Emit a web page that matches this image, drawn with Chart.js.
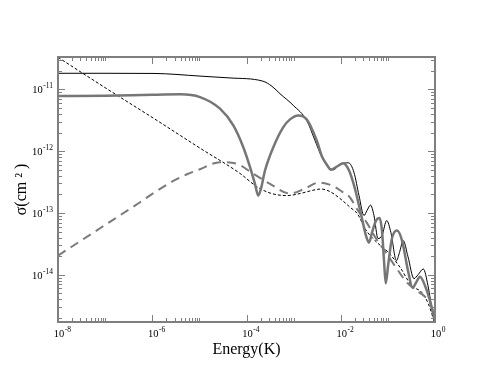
<!DOCTYPE html>
<html>
<head>
<meta charset="utf-8">
<script src="https://cdn.jsdelivr.net/npm/chart.js@4/dist/chart.umd.min.js"></script>
<style>
html, body { margin: 0; padding: 0; background: #fff; }
#wrap { width: 491px; height: 379px; }
</style>
</head>
<body>
<div id="wrap"><canvas id="chart-container"></canvas></div>
<script>
// thin black solid
const energyThin = [1e-8, 1.05e-7, 1.09e-6, 1.03e-5, 4.47e-5, 2.21e-4, 3.48e-4, 5.14e-4, 9.84e-4, 1.89e-3,
    2.84e-3, 4.0e-3, 5.36e-3, 6.95e-3, 9.64e-3, 1.45e-2, 1.91e-2, 2.44e-2, 3.11e-2, 3.60e-2,
    4.28e-2, 5.08e-2, 6.17e-2, 7.5e-2, 9.44e-2, 0.116, 0.152, 0.176, 0.212, 0.267,
    0.358, 0.436, 0.565, 0.71, 0.908, 1];
const sigmaThin = [1.82e-11, 1.82e-11, 1.81e-11, 1.64e-11, 1.53e-11, 1.36e-11, 1.12e-11, 8.51e-12, 5.51e-12, 3.15e-12,
    1.49e-12, 7.91e-13, 5.65e-13, 5.0e-13, 6.08e-13, 6.49e-13, 4.52e-13, 1.91e-13, 9.08e-14, 1.09e-13,
    1.34e-13, 9.08e-14, 3.85e-14, 4.31e-14, 7.53e-14, 4.81e-14, 1.69e-14, 2.28e-14, 3.57e-14, 1.96e-14,
    8.65e-15, 1.0e-14, 1.24e-14, 6.65e-15, 2.17e-15, 1.6e-15];

// thick grey solid
const energyThick = [1e-8, 1.05e-7, 1.05e-6, 3.88e-6, 1.03e-5, 2.74e-5, 5.25e-5, 8.55e-5, 1.19e-4, 1.51e-4,
    1.78e-4, 2.03e-4, 2.47e-4, 3.71e-4, 6.04e-4, 8.38e-4, 1.26e-3, 1.89e-3, 3.09e-3, 4.0e-3,
    5.04e-3, 6.21e-3, 8.32e-3, 1.13e-2, 1.5e-2, 2.0e-2, 2.78e-2, 3.43e-2, 3.98e-2, 4.6e-2,
    5.6e-2, 6.64e-2, 7.5e-2, 8.28e-2, 9.0e-2, 0.101, 0.122, 0.156, 0.2, 0.267,
    0.336, 0.395, 0.481, 0.614, 0.783, 1];
const sigmaThick = [7.8e-12, 7.9e-12, 8.2e-12, 8.3e-12, 7.5e-12, 4.87e-12, 2.61e-12, 1.16e-12, 5.51e-13, 2.96e-13,
    1.91e-13, 2.48e-13, 4.86e-13, 1.16e-12, 2.45e-12, 3.27e-12, 3.79e-12, 3.27e-12, 1.49e-12, 8.2e-13,
    6.08e-13, 5.0e-13, 5.65e-13, 6.39e-13, 4.86e-13, 2.48e-13, 8.51e-14, 4.31e-14, 3.31e-14, 4.81e-14,
    7.53e-14, 8.26e-14, 5.19e-14, 1.69e-14, 7.26e-15, 1.40e-14, 3.85e-14, 5.19e-14, 3.57e-14, 1.17e-14,
    6.18e-15, 7.44e-15, 9.31e-15, 6.65e-15, 3.8e-15, 1.8e-15];

// grey long dashes
const energyLong = [1e-8, 7.78e-8, 5.5e-7, 1.14e-6, 2.8e-6, 5.46e-6, 1.03e-5, 2.74e-5, 6.19e-5, 1.39e-4,
    3.16e-4, 8.38e-4, 1.74e-3, 3.45e-3, 6.52e-3, 1.06e-2, 1.57e-2, 2.32e-2, 3.56e-2, 5.6e-2,
    9.12e-2, 0.154, 0.255, 0.409, 0.614, 0.783, 1];
const sigmaLong = [2.04e-14, 5.65e-14, 1.49e-13, 2.17e-13, 3.3e-13, 4.23e-13, 5.1e-13, 6.64e-13, 6.25e-13, 4.31e-13,
    2.96e-13, 2.06e-13, 2.48e-13, 3.11e-13, 2.78e-13, 2.22e-13, 1.78e-13, 1.09e-13, 6.98e-14, 3.85e-14,
    2.28e-14, 1.26e-14, 7.44e-15, 5.52e-15, 4.42e-15, 3.53e-15, 1.95e-15];

// black short dashes
const energyShort = [1e-8, 1.05e-7, 1.09e-6, 1.03e-5, 7.28e-5, 1.64e-4, 3.16e-4, 7.13e-4, 1.36e-3, 2.45e-3,
    3.81e-3, 5.91e-3, 9.64e-3, 1.57e-2, 2.32e-2, 3.27e-2, 5.33e-2, 0.102, 0.181, 0.32,
    0.523, 0.721, 1];
const sigmaShort = [3.3e-11, 1.04e-11, 3.37e-12, 1.12e-12, 4.36e-13, 2.68e-13, 2.1e-13, 1.91e-13, 2.06e-13, 2.31e-13,
    2.44e-13, 2.22e-13, 1.71e-13, 1.24e-13, 9.42e-14, 5.58e-14, 3.57e-14, 2.31e-14, 1.32e-14, 6.65e-15,
    5.19e-15, 3.4e-15, 1.6e-15];

const xTicks = [1e-8, 1e-6, 1e-4, 1e-2, 1];
const yTicks = [1e-14, 1e-13, 1e-12, 1e-11];

function pts(xs, ys) {
    return xs.map((x, i) => ({ x: x, y: ys[i] }));
}

const serif = '"Liberation Serif", "Times New Roman", serif';

// "10" with a raised exponent
function drawPow(ctx, v, x0, base) {
    const e = String(Math.round(Math.log10(v)));
    ctx.font = '10.5px ' + serif;
    ctx.fillText('10', x0, base);
    const w = ctx.measureText('10').width;
    ctx.font = '7.5px ' + serif;
    ctx.fillText(e, x0 + w + 0.5, base - 5);
}
function powWidth(ctx, v) {
    const e = String(Math.round(Math.log10(v)));
    ctx.font = '10.5px ' + serif;
    const w = ctx.measureText('10').width;
    ctx.font = '7.5px ' + serif;
    return [w, w + 0.5 + ctx.measureText(e).width];
}

// frame with inward ticks on all four sides, plus tick labels
const frame = {
    id: 'frame',
    afterDatasetsDraw(chart) {
        const { ctx, chartArea: a, scales: { x, y } } = chart;
        ctx.save();
        ctx.strokeStyle = '#7f7f7f';
        ctx.lineWidth = 1;
        const seg = (x1, y1, x2, y2) => { ctx.beginPath(); ctx.moveTo(x1, y1); ctx.lineTo(x2, y2); ctx.stroke(); };
        const tickX = (v, len) => {
            const p = Math.round(x.getPixelForValue(v)) + 0.5;
            seg(p, a.bottom, p, a.bottom - len);
            seg(p, a.top, p, a.top + len);
        };
        const tickY = (v, len) => {
            const p = Math.round(y.getPixelForValue(v)) + 0.5;
            if (p < a.top || p > a.bottom) return;
            seg(a.left, p, a.left + len, p);
            seg(a.right, p, a.right - len, p);
        };
        xTicks.forEach(v => tickX(v, 7));
        xTicks.slice(0, -1).forEach(v => {
            for (let k = 2; k <= 10; k++) tickX(k * v, 4);
        });
        for (let d = -16; d <= -11; d++) {
            for (let k = 2; k <= 9; k++) tickY(k * Math.pow(10, d), 4);
        }
        yTicks.forEach(v => tickY(v, 7));
        ctx.lineWidth = 2;
        ctx.strokeRect(a.left, a.top, a.right - a.left, a.bottom - a.top);

        ctx.fillStyle = '#000';
        ctx.textBaseline = 'alphabetic';
        ctx.textAlign = 'left';
        xTicks.forEach(v => {
            const p = x.getPixelForValue(v);
            const [w10] = powWidth(ctx, v);
            drawPow(ctx, v, p - w10 / 2 + 1, a.bottom + 15);
        });
        yTicks.forEach(v => {
            const p = y.getPixelForValue(v);
            const [, wAll] = powWidth(ctx, v);
            drawPow(ctx, v, a.left - 5 - wAll, p + 4);
        });
        ctx.restore();
    }
};

new Chart(document.getElementById('chart-container'), {
    type: 'line',
    data: {
        datasets: [{
            data: pts(energyThick, sigmaThick),
            borderColor: '#767676',
            borderWidth: 2.5
        }, {
            data: pts(energyLong, sigmaLong),
            borderColor: '#7a7a7a',
            borderWidth: 2,
            borderDash: [9, 6]
        }, {
            data: pts(energyShort, sigmaShort),
            borderColor: '#000',
            borderWidth: 1,
            borderDash: [3, 2]
        }, {
            data: pts(energyThin, sigmaThin),
            borderColor: '#000',
            borderWidth: 1
        }]
    },
    options: {
        responsive: true,
        maintainAspectRatio: false,
        animation: false,
        layout: { padding: { top: 57, right: 56, left: 0, bottom: 0 } },
        elements: {
            point: { radius: 0 },
            line: { cubicInterpolationMode: 'monotone', fill: false }
        },
        plugins: { legend: { display: false }, tooltip: { enabled: false } },
        scales: {
            x: {
                type: 'logarithmic',
                min: 1e-8,
                max: 1,
                grid: { display: false },
                border: { display: false },
                afterBuildTicks: s => { s.ticks = xTicks.map(v => ({ value: v })); },
                afterFit: s => { s.height = 57; },
                ticks: { display: false },
                title: {
                    display: true,
                    text: 'Energy(K)',
                    color: '#000',
                    font: { family: serif, size: 16 },
                    padding: { bottom: 20 }
                }
            },
            y: {
                type: 'logarithmic',
                min: 1.72e-15,
                max: 3.34e-11,
                grid: { display: false },
                border: { display: false },
                afterBuildTicks: s => { s.ticks = yTicks.map(v => ({ value: v })); },
                afterFit: s => { s.width = 58; },
                ticks: { display: false },
                title: {
                    display: true,
                    text: '\u03C3(cm \u00B2 )',
                    color: '#000',
                    font: { family: serif, size: 16 },
                    padding: { top: 12 }
                }
            }
        }
    },
    plugins: [frame]
});
</script>
</body>
</html>
